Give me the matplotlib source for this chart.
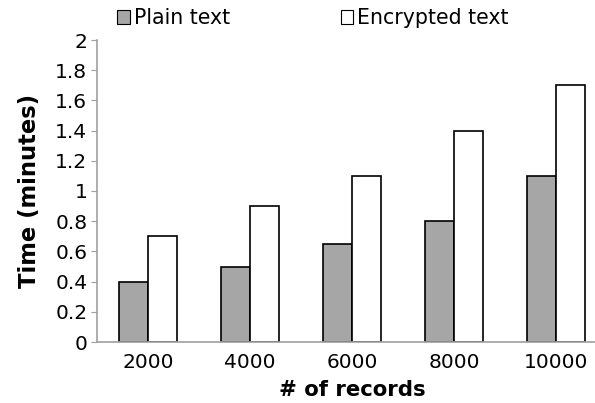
import matplotlib
matplotlib.use("Agg")
import matplotlib.pyplot as plt
import numpy as np

records = ["2000", "4000", "6000", "8000", "10000"]
plain_text = [0.4, 0.5, 0.65, 0.8, 1.1]
encrypted_text = [0.7, 0.9, 1.1, 1.4, 1.7]
y_ticks = [0, 0.2, 0.4, 0.6, 0.8, 1, 1.2, 1.4, 1.6, 1.8, 2]
y_tick_labels = ["0", "0.2", "0.4", "0.6", "0.8", "1", "1.2", "1.4", "1.6", "1.8", "2"]

plt.rcParams["font.family"] = "DejaVu Sans"
fig = plt.figure(figsize=(5.95, 4.03), dpi=100)
ax = fig.add_axes([97 / 595, 1 - 342 / 403, 510 / 595, 302 / 403])

x = np.arange(len(records))
w = 0.285
ax.bar(x - w / 2, plain_text, w, color="#a6a6a6", edgecolor="black", linewidth=1.2, label="Plain text")
ax.bar(x + w / 2, encrypted_text, w, color="white", edgecolor="black", linewidth=1.2, label="Encrypted text")

ax.set_xlim(-0.5, len(records) - 0.5)
ax.set_ylim(0, 2)
ax.set_yticks(y_ticks)
ax.set_yticklabels(y_tick_labels, fontsize=14.5)
ax.set_xticks(x)
ax.set_xticklabels(records, fontsize=14.5)
ax.tick_params(axis="x", length=0, pad=8)
ax.tick_params(axis="y", length=4, color="#a0a0a0", pad=3)

for side in ("top", "right"):
    ax.spines[side].set_visible(False)
for side in ("left", "bottom"):
    ax.spines[side].set_color("#a0a0a0")
    ax.spines[side].set_linewidth(1.2)

ax.set_ylabel("Time (minutes)", fontsize=16.3, fontweight="bold", labelpad=10)
ax.set_xlabel("# of records", fontsize=15.3, fontweight="bold", labelpad=6)

leg = fig.legend(loc="upper left", bbox_to_anchor=(109 / 595, 1.0), ncol=2, frameon=False,
                 fontsize=14.8, handlelength=0.6, handleheight=0.6, handletextpad=0.2,
                 columnspacing=5.4, borderaxespad=0.0)
for h in leg.legend_handles:
    h.set_linewidth(0.8)

fig.savefig("out.png", dpi=100)
